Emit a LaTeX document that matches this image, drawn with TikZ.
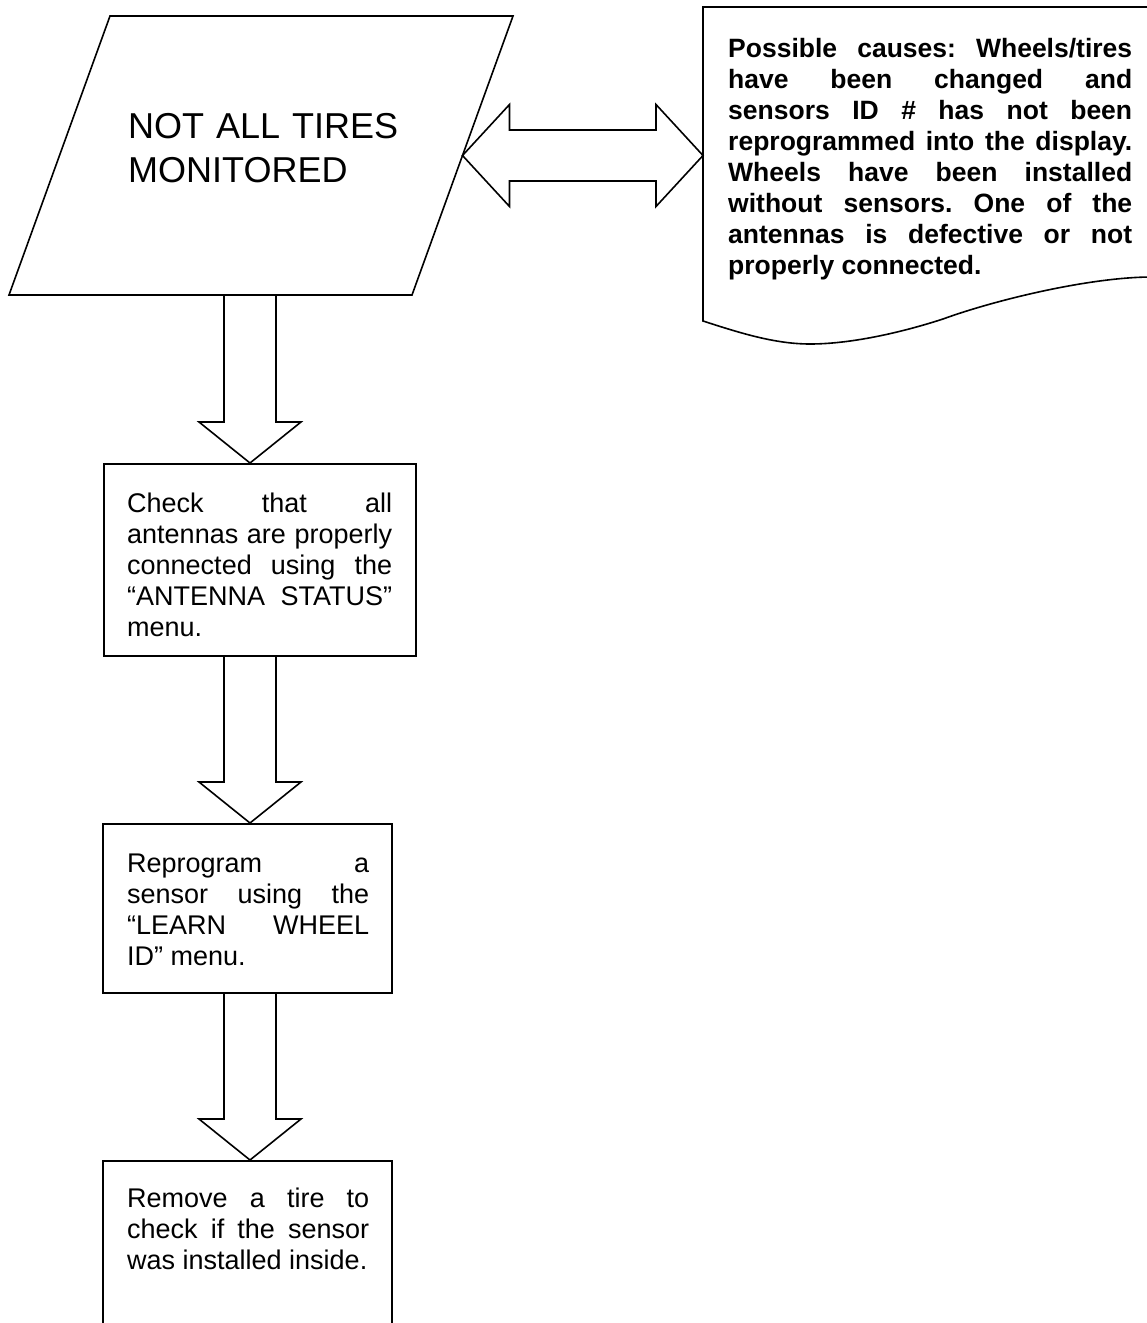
\documentclass[tikz,border=0pt]{standalone}
\usepackage{fontspec}
\setmainfont{Liberation Sans}
\usetikzlibrary{calc}

\tikzset{
	outline/.style={draw=black, line width=1.6pt, line join=miter},
	stepbox/.style={draw=black, line width=2pt, rectangle, anchor=north west, inner sep=0pt},
	steptext/.style={anchor=base west, inner sep=0pt, text width=#1, align=justify, font=\fontsize{27}{31}\selectfont},
}

\begin{document}
\frenchspacing
\begin{tikzpicture}[x=1pt, y=-1pt]
		\useasboundingbox (0,0) rectangle (1147,1323);

		%draw input parallelogram
		\coordinate (pbl) at (9,295);
		\coordinate (ptl) at (110,16);
		\coordinate (ptr) at (513,16);
		\coordinate (pbr) at (412,295);
		\draw[outline] (pbl) -- (ptl) -- (ptr) -- (pbr) -- cycle;
		\node[anchor=base west, inner sep=0pt, text width=330pt, align=left, font=\fontsize{36}{44}\selectfont] (notall) at (128,138) {NOT ALL TIRES\\MONITORED};

		%draw document with wavy bottom
		\coordinate (dtl) at (703,7);
		\draw[outline] (1152,7) -- (dtl) -- (703,321) .. controls (740,333) and (775,344) .. (810,344) .. controls (850,344) and (900,333) .. (943,319) .. controls (995,300) and (1090,277) .. (1152,277);
		\node[anchor=base west, inner sep=0pt, text width=404pt, align=justify, font=\fontsize{26.5}{31}\selectfont\bfseries] (causes) at (728,57) {Possible causes: Wheels/tires\linebreak have been changed and\linebreak sensors ID \# has not been\linebreak reprogrammed into the display.\linebreak Wheels have been installed\linebreak without sensors. One of the\linebreak antennas is defective or not\linebreak properly connected.};

		%double arrow between input and causes
		\coordinate (leftend) at ($(ptr)!0.5!(pbr)$);
		\coordinate (rightend) at (dtl |- leftend);
		\draw[outline] (leftend) -- ++(47,-51) -- ++(0,25.5) -- ($(rightend)+(-47,-25.5)$) -- ++(0,-25.5) -- (rightend) -- ++(-47,51) -- ++(0,-25.5) -- ($(leftend)+(47,25.5)$) -- ++(0,25.5) -- cycle;

		%steps
		\node[stepbox, minimum width=312pt, minimum height=192pt] (check) at (103,463) {};
		\node[steptext=265pt] (checktext) at ($(check.north west)+(24,49)$) {Check that all\linebreak antennas are properly\linebreak connected using the\linebreak “ANTENNA STATUS”\linebreak menu.};

		\node[stepbox, minimum width=289pt, minimum height=169pt] (reprog) at (102,823) {};
		\node[steptext=242pt] (reprogtext) at ($(reprog.north west)+(25,49)$) {Reprogram a\linebreak sensor using the\linebreak “LEARN WHEEL\linebreak ID” menu.};

		\node[stepbox, minimum width=289pt, minimum height=230pt] (remove) at (102,1160) {};
		\node[steptext=242pt] (removetext) at ($(remove.north west)+(25,47)$) {Remove a tire to\linebreak check if the sensor\linebreak was installed inside.};

		%down arrows
		\coordinate (axis) at (250,0);
		\foreach \from/\to in {pbl/check.north, check.south/reprog.north, reprog.south/remove.north}
		\draw[outline] ($(axis |- \from)+(-26,0)$) -- ($(axis |- \to)+(-26,-41)$) -- ($(axis |- \to)+(-51,-41)$) -- (axis |- \to) -- ($(axis |- \to)+(51,-41)$) -- ($(axis |- \to)+(26,-41)$) -- ($(axis |- \from)+(26,0)$);
\end{tikzpicture}
\end{document}
